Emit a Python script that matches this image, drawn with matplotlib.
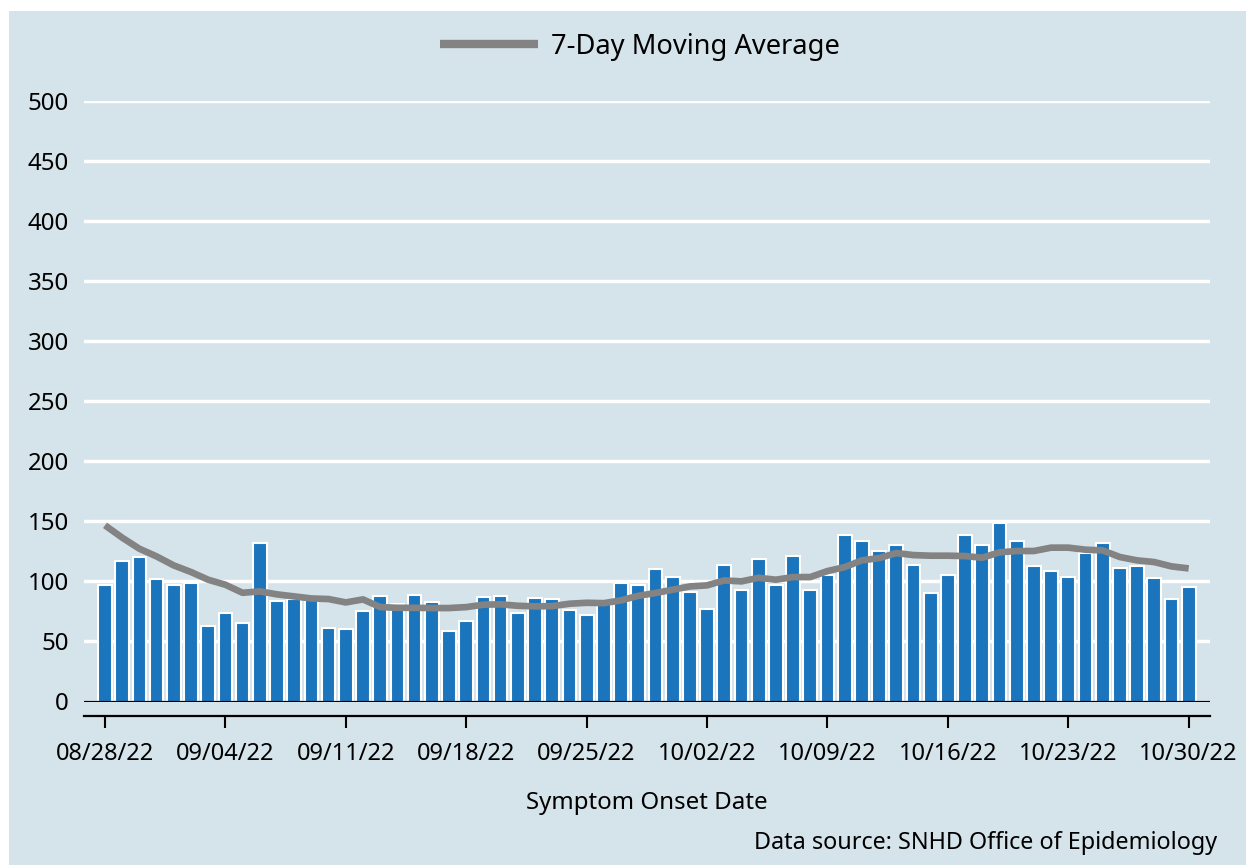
import matplotlib
matplotlib.use("Agg")
import matplotlib.pyplot as plt
from matplotlib.patches import Rectangle
from matplotlib.lines import Line2D

plt.rcParams['font.family'] = ['Noto Sans', 'DejaVu Sans']

tick_labels = ["08/28/22", "09/04/22", "09/11/22", "09/18/22", "09/25/22",
               "10/02/22", "10/09/22", "10/16/22", "10/23/22", "10/30/22"]

daily_cases = [97, 117, 120, 102, 97, 99, 63, 74, 65, 132,
               84, 85, 86, 61, 60, 75, 88, 81, 89, 83,
               59, 67, 87, 88, 74, 86, 85, 76, 72, 81,
               99, 97, 110, 104, 91, 77, 114, 93, 119, 97,
               121, 93, 105, 139, 134, 125, 130, 114, 90, 105,
               139, 130, 149, 134, 113, 109, 104, 124, 132, 111,
               113, 103, 85, 95]

moving_avg = [146.7, 136.4, 127.2, 120.8, 113.3, 107.8, 101.4, 97.2, 90.5, 91.7,
              89.2, 87.5, 85.8, 85.3, 82.5, 85.0, 78.6, 78.0, 78.0, 77.8,
              77.8, 78.6, 80.6, 80.9, 79.7, 79.2, 79.4, 81.4, 82.2, 81.9,
              84.2, 88.0, 90.3, 93.1, 95.8, 96.7, 100.8, 100.0, 103.0, 101.4,
              103.6, 103.6, 108.6, 111.9, 117.5, 119.4, 123.6, 121.9, 121.4, 121.4,
              121.1, 119.7, 124.2, 125.3, 125.3, 128.1, 128.1, 126.4, 125.8, 120.3,
              117.5, 116.1, 112.5, 110.8]

bg = '#d5e3ea'
bar_color = '#1b75bc'
line_color = '#838383'

fig = plt.figure(figsize=(12.46, 8.65), dpi=100)
fig.patch.set_facecolor('white')
fig.patches.append(Rectangle((9 / 1246, 0), 1 - 9 / 1246, 1 - 11 / 865,
                             transform=fig.transFigure, facecolor=bg,
                             edgecolor='none', zorder=-10))

ax = fig.add_axes([84 / 1246, 1 - 701.5 / 865, (1210 - 84) / 1246, 600.5 / 865])
ax.set_facecolor(bg)

x = list(range(len(daily_cases)))
ax.bar(x, daily_cases, width=0.8, color=bar_color, edgecolor='white',
       linewidth=1.5, zorder=3)
ax.plot(x, moving_avg, color=line_color, linewidth=4.8, zorder=4,
        solid_capstyle='butt')

ax.set_ylim(0, 500)
ax.set_xlim(-1.22, 64.24)
ax.set_yticks(range(0, 501, 50))
ax.yaxis.grid(True, color='white', linewidth=2.5, zorder=0)
ax.set_axisbelow(True)
ax.axhline(0, color='black', linewidth=1.6, zorder=5)

ax.set_xticks(list(range(0, 64, 7)))
ax.set_xticklabels(tick_labels)

for s in ['top', 'right', 'left']:
    ax.spines[s].set_visible(False)
ax.spines['bottom'].set_position(('outward', 10.5))
ax.spines['bottom'].set_linewidth(1.6)
ax.tick_params(axis='y', length=0, pad=11, labelsize=17.3)
ax.tick_params(axis='x', length=8.6, width=1.5, pad=10, labelsize=17.0)

ax.set_xlabel('Symptom Onset Date', fontsize=17.3, labelpad=18)

fig.text(1217 / 1246, 1 - 843 / 865, 'Data source: SNHD Office of Epidemiology',
         ha='right', va='center', fontsize=16.8)

handle = Line2D([], [], color=line_color, linewidth=6, solid_capstyle='butt')
fig.legend([handle], ['7-Day Moving Average'], loc='center',
           bbox_to_anchor=(640 / 1246, 1 - 47 / 865), frameon=False,
           fontsize=19.6, handlelength=3.6, handletextpad=0.45)

fig.savefig('out.png', dpi=100, facecolor=fig.get_facecolor())
